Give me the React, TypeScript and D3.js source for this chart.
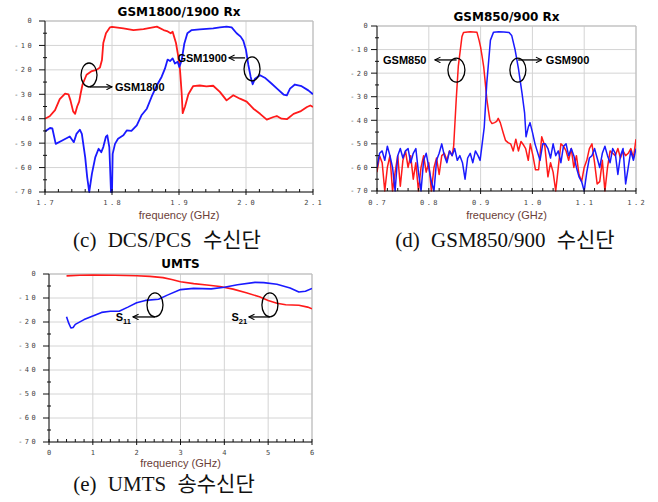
import React from 'react';
import * as d3 from 'd3';

type Pt = [number, number];

// (c) GSM1800/1900 Rx  [GHz, dB]
const gsm1800: Pt[] = [
  [1.700, -40], [1.707, -39], [1.715, -36.5], [1.722, -32], [1.730, -29.7], [1.735, -30],
  [1.738, -32.5], [1.742, -37], [1.745, -38], [1.748, -35], [1.751, -33], [1.753, -30],
  [1.756, -26], [1.762, -22], [1.770, -20.5], [1.777, -20], [1.782, -19], [1.785, -16],
  [1.787, -9], [1.791, -5], [1.797, -2.6], [1.800, -2.4], [1.817, -3], [1.832, -3.7],
  [1.847, -3.3], [1.867, -2.3], [1.877, -3.7], [1.882, -4.1], [1.8876, -5], [1.8905, -4.4],
  [1.8955, -9], [1.899, -14.7], [1.9015, -20], [1.904, -29.7], [1.9055, -37.7], [1.909, -35],
  [1.914, -30], [1.921, -26.7], [1.931, -26.4], [1.941, -26.8], [1.951, -26.5], [1.961, -29],
  [1.971, -32.5], [1.981, -30.4], [1.991, -31.8], [2.001, -33], [2.011, -35.9], [2.021, -38],
  [2.031, -40.4], [2.041, -39.3], [2.046, -38.9], [2.053, -40], [2.061, -40.2], [2.071, -38],
  [2.081, -37], [2.091, -35.2], [2.096, -34.6], [2.100, -35.2],
];
const gsm1900: Pt[] = [
  [1.700, -45.2], [1.7075, -43.8], [1.711, -44], [1.716, -50.3], [1.725, -49], [1.737, -47.3],
  [1.743, -49.6], [1.747, -46.2], [1.752, -44.5], [1.755, -46.2], [1.760, -55.8], [1.763, -64],
  [1.766, -70], [1.770, -62.6], [1.775, -55.8], [1.780, -52.3], [1.784, -53.7], [1.787, -51.6],
  [1.791, -47.3], [1.793, -46.8], [1.796, -51.6], [1.7985, -70], [1.800, -70], [1.801, -54.4],
  [1.8045, -50.3], [1.809, -48.2], [1.817, -46.8], [1.822, -44.8], [1.829, -45], [1.837, -42.7],
  [1.844, -38.6], [1.852, -35.9], [1.859, -31.1], [1.867, -26.3], [1.874, -22.9], [1.879, -19.5],
  [1.883, -15.8], [1.8866, -16.4], [1.8905, -15.3], [1.894, -17.4], [1.898, -16.7], [1.9005, -18.8],
  [1.904, -16], [1.908, -9.2], [1.9125, -5], [1.919, -3.7], [1.931, -3.4], [1.951, -3],
  [1.961, -2.6], [1.971, -2.3], [1.9786, -2.6], [1.986, -5], [1.992, -6.4], [1.996, -8.1],
  [2.000, -11.9], [2.0035, -18], [2.007, -22.9], [2.010, -25.9], [2.0134, -23.6], [2.021, -22.2],
  [2.028, -23.2], [2.038, -25.6], [2.048, -28.1], [2.056, -30.1], [2.061, -30.4], [2.0657, -27.7],
  [2.073, -26], [2.083, -26.7], [2.093, -28.4], [2.100, -30],
];

// (d) GSM850/900 Rx
const gsm850: Pt[] = [
  [0.700, -62], [0.705, -55], [0.710, -58], [0.715, -70], [0.720, -60], [0.725, -55],
  [0.730, -70], [0.735, -62], [0.740, -55], [0.745, -68], [0.750, -57], [0.755, -53],
  [0.760, -60], [0.765, -55], [0.770, -65], [0.775, -58], [0.780, -70], [0.785, -60],
  [0.790, -55], [0.795, -62], [0.800, -58], [0.805, -70], [0.810, -60], [0.815, -56],
  [0.820, -63], [0.825, -55], [0.830, -54], [0.835, -57], [0.840, -53], [0.845, -55],
  [0.848, -51], [0.853, -31], [0.857, -17], [0.864, -4.5], [0.867, -2.8], [0.875, -2.5],
  [0.880, -2.4], [0.886, -2.5], [0.893, -2.7], [0.897, -6], [0.900, -9], [0.903, -13],
  [0.906, -17.3], [0.909, -24], [0.912, -31], [0.915, -35.7], [0.918, -40], [0.922, -41.4],
  [0.927, -41], [0.931, -40.5], [0.934, -39.2], [0.938, -41], [0.944, -45.6], [0.948, -48.5],
  [0.953, -49.5], [0.958, -50], [0.963, -53], [0.968, -48], [0.973, -53], [0.978, -49],
  [0.983, -50.5], [0.987, -52], [0.992, -57], [0.996, -50], [1.001, -55], [1.006, -61],
  [1.012, -61], [1.018, -47], [1.024, -51], [1.030, -64], [1.035, -58], [1.040, -62],
  [1.045, -70], [1.050, -60], [1.055, -50], [1.060, -51], [1.065, -53], [1.070, -57],
  [1.075, -52], [1.080, -60], [1.085, -55], [1.090, -63], [1.095, -66], [1.100, -60],
  [1.105, -57], [1.110, -52], [1.115, -50], [1.120, -58], [1.125, -67], [1.130, -66],
  [1.135, -57], [1.140, -70], [1.145, -60], [1.150, -53], [1.155, -54], [1.160, -55],
  [1.165, -52], [1.170, -56], [1.175, -53], [1.180, -55], [1.185, -54], [1.190, -52],
  [1.195, -56], [1.200, -48],
];
const gsm900: Pt[] = [
  [0.700, -60], [0.705, -54], [0.710, -53], [0.715, -57], [0.720, -51], [0.725, -55],
  [0.730, -60], [0.735, -70], [0.740, -55], [0.745, -52], [0.750, -56], [0.755, -53],
  [0.760, -52], [0.765, -58], [0.770, -54], [0.775, -52], [0.780, -62], [0.785, -70],
  [0.790, -57], [0.795, -54], [0.800, -60], [0.805, -66], [0.810, -70], [0.815, -57],
  [0.820, -54], [0.825, -50], [0.830, -55], [0.835, -58], [0.840, -53], [0.845, -55],
  [0.850, -52], [0.855, -57], [0.860, -55], [0.865, -58], [0.870, -65], [0.875, -56],
  [0.880, -54], [0.885, -58], [0.890, -53], [0.895, -55], [0.899, -57], [0.9025, -51],
  [0.907, -43], [0.912, -24], [0.919, -6], [0.925, -2.6], [0.935, -2.4], [0.945, -2.5],
  [0.955, -2.8], [0.960, -4], [0.9667, -10.2], [0.973, -18], [0.980, -28.6], [0.985, -37],
  [0.9877, -47], [0.992, -43], [0.9954, -41], [1.000, -45], [1.005, -50], [1.0147, -57],
  [1.020, -50], [1.025, -50], [1.030, -52], [1.035, -56], [1.040, -50], [1.045, -55],
  [1.050, -53], [1.055, -58], [1.060, -51], [1.065, -50], [1.070, -55], [1.075, -52],
  [1.080, -55], [1.085, -60], [1.090, -64], [1.095, -66], [1.100, -70], [1.105, -62],
  [1.110, -56], [1.115, -55], [1.120, -52], [1.125, -56], [1.130, -60], [1.135, -54],
  [1.140, -51], [1.145, -55], [1.150, -58], [1.155, -52], [1.160, -54], [1.165, -63],
  [1.170, -55], [1.175, -52], [1.180, -67], [1.185, -60], [1.190, -53], [1.195, -57],
  [1.200, -52],
];

// (e) UMTS
const umtsS21: Pt[] = [
  [0.4, -0.8], [0.7, -0.5], [1.0, -0.4], [1.5, -0.5], [2.0, -0.7], [2.3, -1], [2.6, -1.5],
  [2.8, -2.3], [3.0, -3.2], [3.3, -4], [3.6, -4.6], [3.9, -5.2], [4.2, -6.3], [4.5, -7.8],
  [4.8, -9.5], [5.0, -11], [5.2, -12.2], [5.4, -12.8], [5.7, -13], [5.9, -13.8], [6.0, -14.5],
];
const umtsS11: Pt[] = [
  [0.4, -17.8], [0.45, -20.5], [0.5, -22.5], [0.55, -22.3], [0.6, -21], [0.8, -19], [1.0, -17.5],
  [1.2, -16], [1.4, -15.5], [1.6, -15.5], [1.8, -13.8], [2.0, -12], [2.2, -11], [2.5, -10.5],
  [2.7, -8.8], [3.0, -6.5], [3.3, -6], [3.7, -6.2], [4.0, -5.5], [4.3, -4.5], [4.7, -3.5],
  [4.9, -3.6], [5.2, -4.3], [5.5, -5.8], [5.7, -7.5], [5.85, -7.2], [6.0, -6],
];

const dbTicks = [0, -10, -20, -30, -40, -50, -60, -70];
const cFreqTicks = [1.7, 1.8, 1.9, 2.0, 2.1];
const dFreqTicks = [0.7, 0.8, 0.9, 1.0, 1.1, 1.2];
const eFreqTicks = [0, 1, 2, 3, 4, 5, 6];

const RED = '#ff1a1a';
const BLUE = '#1a1aff';

type Note =
  | { kind: 'ellipse'; x: number; y: number; rx: number; ry: number }
  | { kind: 'arrow'; x1: number; y1: number; x2: number; y2: number }
  | { kind: 'label'; x: number; y: number; text: string; sub?: string; anchor: 'start' | 'end' };

interface PanelProps {
  id: string;
  left: number; right: number; top: number; bottom: number;
  xDomain: [number, number];
  xTicks: number[];
  xFmt: (v: number) => string;
  title: string; titleY: number;
  yLabelGap: number;
  xLabelY: number; freqY: number;
  caption: string; captionX: number; captionY: number;
  series: { data: Pt[]; color: string; width: number }[];
  notes: Note[];
}

function Panel(p: PanelProps) {
  const x = d3.scaleLinear().domain(p.xDomain).range([p.left, p.right]);
  const y = d3.scaleLinear().domain([0, -70]).range([p.top, p.bottom]);
  const line = d3.line<Pt>().x(d => x(d[0])).y(d => y(d[1]));
  const step = p.xTicks[1] - p.xTicks[0];
  const minorX: number[] = [];
  for (let i = 0; i < p.xTicks.length - 1; i++) {
    for (let k = 1; k < 5; k++) minorX.push(p.xTicks[i] + (step * k) / 5);
  }
  const minorY = dbTicks.slice(0, -1).map(v => v - 5);
  const cx = (p.left + p.right) / 2;
  const tickFont = { fontFamily: 'DejaVu Sans Mono', fontSize: 7, fill: '#444', letterSpacing: 2.4 };

  return (
    <g>
      <defs>
        <clipPath id={`clip-${p.id}`}>
          <rect x={p.left} y={p.top - 1} width={p.right - p.left} height={p.bottom - p.top + 2} />
        </clipPath>
      </defs>
      <text x={cx} y={p.titleY} textAnchor="middle" fontFamily="DejaVu Sans" fontWeight="bold" fontSize={12}>{p.title}</text>
      {p.xTicks.map(t => (
        <line key={`gx${t}`} x1={x(t)} x2={x(t)} y1={p.top} y2={p.bottom} stroke="#d4d4d4" />
      ))}
      {dbTicks.map(t => (
        <line key={`gy${t}`} x1={p.left} x2={p.right} y1={y(t)} y2={y(t)} stroke="#d4d4d4" />
      ))}
      <line x1={p.left} x2={p.right} y1={p.top} y2={p.top} stroke="#bbb" />
      <line x1={p.right} x2={p.right} y1={p.top} y2={p.bottom} stroke="#bbb" />
      <g clipPath={`url(#clip-${p.id})`}>
        {p.series.map((s, i) => (
          <path key={i} d={line(s.data) ?? ''} fill="none" stroke={s.color} strokeWidth={s.width} strokeLinejoin="round" />
        ))}
      </g>
      <line x1={p.left} x2={p.left} y1={p.top} y2={p.bottom} stroke="#111" />
      <line x1={p.left} x2={p.right} y1={p.bottom} y2={p.bottom} stroke="#111" />
      {dbTicks.map(t => (
        <g key={`ty${t}`}>
          <line x1={p.left - 6} x2={p.left} y1={y(t)} y2={y(t)} stroke="#111" />
          <text x={p.left - p.yLabelGap} y={y(t)} dy="0.35em" textAnchor="end" {...tickFont}>{t === 0 ? '0' : `-${-t}`}</text>
        </g>
      ))}
      {minorY.map(t => (
        <line key={`my${t}`} x1={p.left - 2} x2={p.left + 2} y1={y(t)} y2={y(t)} stroke="#111" />
      ))}
      {p.xTicks.map(t => (
        <g key={`tx${t}`}>
          <line x1={x(t)} x2={x(t)} y1={p.bottom - 3} y2={p.bottom + 3} stroke="#111" />
          <text x={x(t) + 1.2} y={p.xLabelY} textAnchor="middle" {...tickFont}>{p.xFmt(t)}</text>
        </g>
      ))}
      {minorX.map(t => (
        <line key={`mx${t}`} x1={x(t)} x2={x(t)} y1={p.bottom - 3} y2={p.bottom} stroke="#111" />
      ))}
      <text x={cx} y={p.freqY} textAnchor="middle" fontFamily="Liberation Sans" fontSize={11} fill="#6b4038">frequency (GHz)</text>
      {p.notes.map((n, i) => {
        if (n.kind === 'ellipse') {
          return <ellipse key={i} cx={x(n.x)} cy={y(n.y)} rx={n.rx} ry={n.ry} fill="none" stroke="#000" strokeWidth={1.3} />;
        }
        if (n.kind === 'arrow') {
          return <line key={i} x1={x(n.x1)} y1={y(n.y1)} x2={x(n.x2)} y2={y(n.y2)} stroke="#000" strokeWidth={1.3} markerEnd="url(#arrowhead)" />;
        }
        return (
          <text key={i} x={x(n.x)} y={y(n.y)} dy="0.35em" textAnchor={n.anchor} fontFamily="Liberation Sans" fontWeight="bold" fontSize={11}>
            {n.text}
            {n.sub && <tspan dy="3" fontSize={7.5}>{n.sub}</tspan>}
          </text>
        );
      })}
      <text x={p.captionX} y={p.captionY} textAnchor="middle" fontFamily="'Liberation Serif', 'Noto Sans CJK KR'" fontSize={21} wordSpacing={6} fill="#111">{p.caption}</text>
    </g>
  );
}

export default function App() {
  const fmt1 = (v: number) => d3.format('.1f')(v);
  const fmt0 = (v: number) => d3.format('d')(v);
  return (
    <svg width={658} height={502} style={{ position: 'absolute', left: 0, top: 0, background: '#fff' }}>
      <defs>
        <marker id="arrowhead" viewBox="0 0 10 10" refX={9} refY={5} markerWidth={7} markerHeight={7} orient="auto" markerUnits="userSpaceOnUse">
          <path d="M1,1 L9,5 L1,9" fill="none" stroke="#000" strokeWidth={1.5} />
        </marker>
      </defs>
      <Panel
        id="c" left={45} right={313} top={21} bottom={192}
        xDomain={[1.7, 2.1]} xTicks={cFreqTicks} xFmt={fmt1}
        title="GSM1800/1900 Rx" titleY={16} yLabelGap={11}
        xLabelY={205} freqY={219}
        caption="(c) DCS/PCS 수신단" captionX={167} captionY={247}
        series={[{ data: gsm1800, color: RED, width: 1.8 }, { data: gsm1900, color: BLUE, width: 1.8 }]}
        notes={[
          { kind: 'ellipse', x: 1.7657, y: -22.1, rx: 8, ry: 12 },
          { kind: 'arrow', x1: 1.7672, y1: -27, x2: 1.800, y2: -27 },
          { kind: 'label', x: 1.8045, y: -27, text: 'GSM1800', anchor: 'start' },
          { kind: 'ellipse', x: 2.009, y: -19.6, rx: 8, ry: 12 },
          { kind: 'arrow', x1: 1.9985, y1: -15.1, x2: 1.9746, y2: -15.1 },
          { kind: 'label', x: 1.9716, y: -15.1, text: 'GSM1900', anchor: 'end' },
        ]}
      />
      <Panel
        id="d" left={377} right={636} top={26} bottom={191}
        xDomain={[0.7, 1.2]} xTicks={dFreqTicks} xFmt={fmt1}
        title="GSM850/900 Rx" titleY={20.5} yLabelGap={7}
        xLabelY={205} freqY={219}
        caption="(d) GSM850/900 수신단" captionX={505} captionY={247}
        series={[{ data: gsm850, color: RED, width: 1.5 }, { data: gsm900, color: BLUE, width: 1.5 }]}
        notes={[
          { kind: 'ellipse', x: 0.8533, y: -18.7, rx: 8.5, ry: 12 },
          { kind: 'arrow', x1: 0.8537, y1: -14.4, x2: 0.8117, y2: -14.4 },
          { kind: 'label', x: 0.7955, y: -14.4, text: 'GSM850', anchor: 'end' },
          { kind: 'ellipse', x: 0.972, y: -18.7, rx: 8, ry: 12 },
          { kind: 'arrow', x1: 0.9725, y1: -14.4, x2: 1.0176, y2: -14.4 },
          { kind: 'label', x: 1.026, y: -14.4, text: 'GSM900', anchor: 'start' },
        ]}
      />
      <Panel
        id="e" left={49} right={312} top={274} bottom={442}
        xDomain={[0, 6]} xTicks={eFreqTicks} xFmt={fmt0}
        title="UMTS" titleY={268} yLabelGap={11}
        xLabelY={455} freqY={467}
        caption="(e) UMTS 송수신단" captionX={164} captionY={491}
        series={[{ data: umtsS21, color: RED, width: 1.6 }, { data: umtsS11, color: BLUE, width: 1.6 }]}
        notes={[
          { kind: 'ellipse', x: 2.418, y: -12.9, rx: 8, ry: 12 },
          { kind: 'arrow', x1: 2.418, y1: -17.9, x2: 1.916, y2: -17.9 },
          { kind: 'label', x: 1.87, y: -17.9, text: 'S', sub: '11', anchor: 'end' },
          { kind: 'ellipse', x: 5.04, y: -12.9, rx: 8, ry: 12 },
          { kind: 'arrow', x1: 5.04, y1: -17.9, x2: 4.56, y2: -17.9 },
          { kind: 'label', x: 4.52, y: -17.9, text: 'S', sub: '21', anchor: 'end' },
        ]}
      />
    </svg>
  );
}
